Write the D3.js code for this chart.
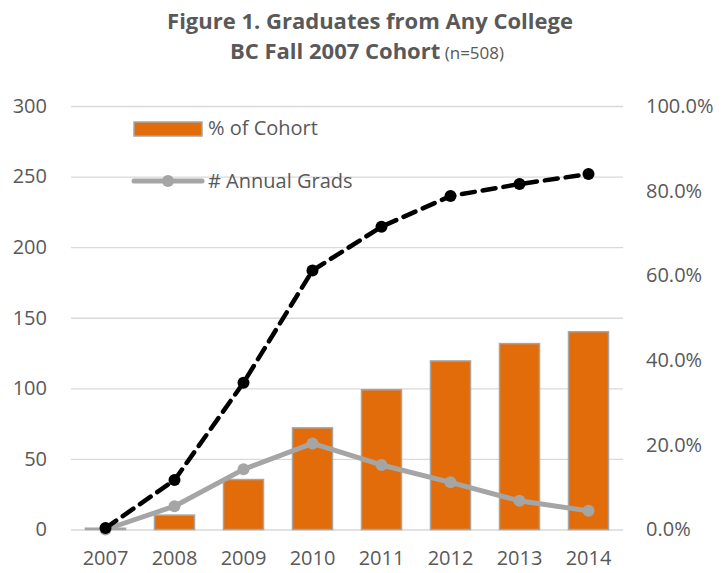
<!DOCTYPE html>
<html>
<head>
<meta charset="utf-8">
<script src="https://cdn.jsdelivr.net/npm/d3@7"></script>
<style>
  body { margin: 0; background: #fff; }
  text { font-family: "Open Sans", sans-serif; fill: #595959; }
</style>
</head>
<body>
<div id="vis"></div>
<script>
// chart data
var years = ['2007', '2008', '2009', '2010', '2011', '2012', '2013', '2014'];
var pctCohort = [0.3, 3.4, 11.8, 24.0, 33.0, 39.8, 43.9, 46.7];      // bars, right axis
var annualGrads = [0, 16.5, 42.6, 61, 45.7, 33.4, 20.3, 13.2];       // grey line, left axis
var anyCollege = [1, 35, 104, 183.5, 214.5, 236.2, 244.7, 251.8];    // dashed line, left axis
var leftTicks = [0, 50, 100, 150, 200, 250, 300];
var rightTicks = [0, 20, 40, 60, 80, 100];

var W = 726, H = 573;
var margin = { left: 71, right: 103, top: 106, bottom: 43.5 };
var width = W - margin.left - margin.right;
var height = H - margin.top - margin.bottom;

var svg = d3.select('#vis').append('svg')
    .attr('width', W)
    .attr('height', H);

var xScale = d3.scaleBand().domain(years).range([0, width]).paddingInner(0.42).paddingOuter(0.21);
var xPoint = function(d) { return xScale(d) + xScale.bandwidth() / 2; };
var yLeft = d3.scaleLinear().domain([0, 300]).range([height, 0]);
var yRight = d3.scaleLinear().domain([0, 100]).range([height, 0]);

var g = svg.append('g')
    .attr('transform', 'translate(' + margin.left + ',' + margin.top + ')');

// gridlines
g.append('g')
    .call(d3.axisLeft(yLeft).tickValues(leftTicks).tickSize(-width).tickFormat(''))
    .call(function(a) {
        a.select('.domain').remove();
        a.selectAll('line').attr('stroke', '#d9d9d9').attr('stroke-width', 1.3);
    });

// left axis labels
g.append('g')
    .call(d3.axisLeft(yLeft).tickValues(leftTicks).tickSize(0).tickPadding(24))
    .call(function(a) {
        a.select('.domain').remove();
        a.selectAll('text').style('font-size', '20px').attr('fill', '#595959');
    });

// right axis labels
g.append('g')
    .attr('transform', 'translate(' + width + ',0)')
    .call(d3.axisRight(yRight).tickValues(rightTicks).tickSize(0).tickPadding(23)
        .tickFormat(function(d) { return d.toFixed(1) + '%'; }))
    .call(function(a) {
        a.select('.domain').remove();
        a.selectAll('text').style('font-size', '20px').attr('fill', '#595959');
    });

// x axis labels
g.append('g')
    .attr('transform', 'translate(0,' + height + ')')
    .call(d3.axisBottom(xScale).tickSize(0).tickPadding(21))
    .call(function(a) {
        a.select('.domain').remove();
        a.selectAll('text').style('font-size', '20px').attr('fill', '#595959');
    });

// bars
g.selectAll('rect.bar')
    .data(years)
    .enter().append('rect')
    .attr('class', 'bar')
    .attr('x', function(d) { return xScale(d); })
    .attr('width', xScale.bandwidth())
    .attr('y', function(d, i) { return yRight(pctCohort[i]); })
    .attr('height', function(d, i) { return height - yRight(pctCohort[i]); })
    .attr('fill', '#e36c0a')
    .attr('stroke', '#a5a5a5')
    .attr('stroke-width', 1.5);

// annual grads line
var valLine = d3.line()
    .x(function(d, i) { return xPoint(years[i]); })
    .y(function(d) { return yLeft(d); });

g.append('path')
    .datum(annualGrads)
    .attr('d', valLine)
    .attr('fill', 'none')
    .attr('stroke', '#a5a5a5')
    .attr('stroke-width', 5)
    .attr('stroke-linejoin', 'round');

g.selectAll('circle.grey')
    .data(annualGrads)
    .enter().append('circle')
    .attr('class', 'grey')
    .attr('cx', function(d, i) { return xPoint(years[i]); })
    .attr('cy', function(d) { return yLeft(d); })
    .attr('r', 6)
    .attr('fill', '#a5a5a5');

// dashed line
g.append('path')
    .datum(anyCollege)
    .attr('d', valLine)
    .attr('fill', 'none')
    .attr('stroke', '#000')
    .attr('stroke-width', 4.5)
    .attr('stroke-dasharray', '13,8')
    .attr('stroke-linecap', 'round');

g.selectAll('circle.black')
    .data(anyCollege)
    .enter().append('circle')
    .attr('class', 'black')
    .attr('cx', function(d, i) { return xPoint(years[i]); })
    .attr('cy', function(d) { return yLeft(d); })
    .attr('r', 6)
    .attr('fill', '#000');

// legend
var legend = svg.append('g');
legend.append('rect')
    .attr('x', 134).attr('y', 122).attr('width', 68).attr('height', 14)
    .attr('fill', '#e36c0a').attr('stroke', '#a5a5a5').attr('stroke-width', 1.5);
legend.append('text')
    .attr('x', 208).attr('y', 135)
    .style('font-size', '20px')
    .text('% of Cohort');
legend.append('line')
    .attr('x1', 134).attr('x2', 202).attr('y1', 181).attr('y2', 181)
    .attr('stroke', '#a5a5a5').attr('stroke-width', 5).attr('stroke-linecap', 'round');
legend.append('circle')
    .attr('cx', 168).attr('cy', 181).attr('r', 6).attr('fill', '#a5a5a5');
legend.append('text')
    .attr('x', 208).attr('y', 188)
    .style('font-size', '20px')
    .text('# Annual Grads');

// title
var t1 = svg.append('text')
    .attr('x', 370).attr('y', 29)
    .attr('text-anchor', 'middle')
    .style('font-size', '22px')
    .style('font-weight', 'bold')
    .text('Figure 1. Graduates from Any College');

var t2 = svg.append('text')
    .attr('x', 367).attr('y', 59)
    .attr('text-anchor', 'middle')
    .style('font-size', '22px')
    .style('font-weight', 'bold');
t2.append('tspan').text('BC Fall 2007 Cohort');
t2.append('tspan').style('font-weight', 'normal').style('font-size', '17px').text(' (n=508)');

// squeeze titles to the reference width
var fit = function(t, w) {
    var len = t.node().getComputedTextLength();
    if (len > w) t.attr('textLength', w).attr('lengthAdjust', 'spacingAndGlyphs');
};
fit(t1, 406);
fit(t2, 281);
</script>
</body>
</html>
